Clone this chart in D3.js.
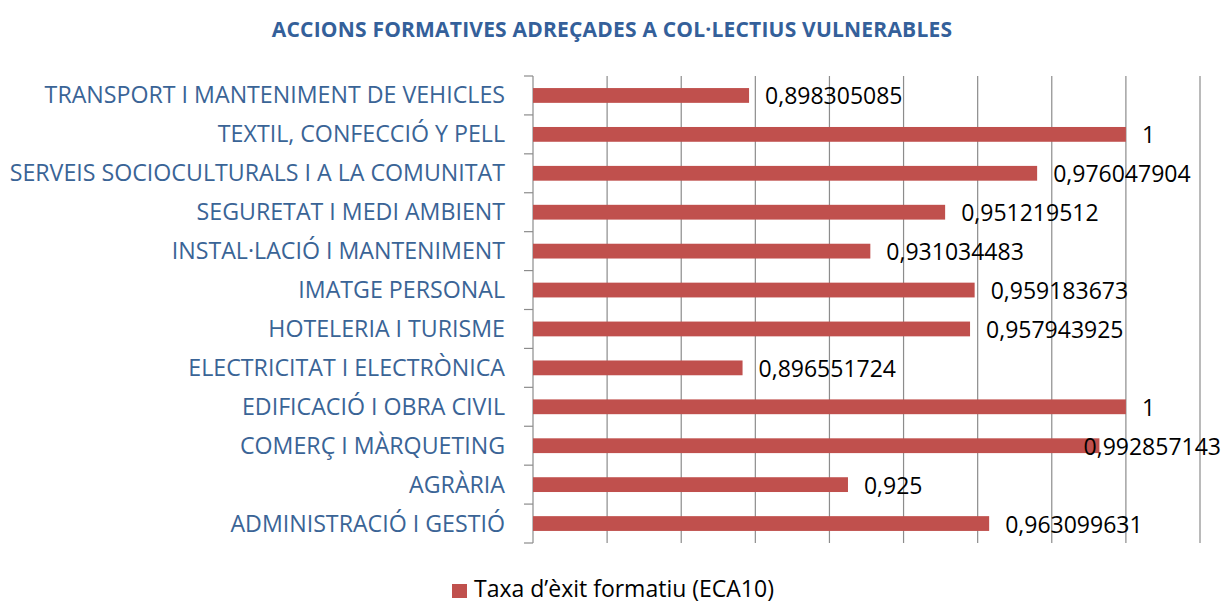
<!DOCTYPE html>
<html>
<head>
<meta charset="utf-8">
<script src="https://cdn.jsdelivr.net/npm/d3@7"></script>
<style>
  html, body { margin: 0; padding: 0; background: #ffffff; }
  svg { display: block; }
</style>
</head>
<body>
<svg id="chart" width="1223" height="604"></svg>
<script>
// Categories, top to bottom
const categories = [
  "TRANSPORT I MANTENIMENT DE VEHICLES",
  "TEXTIL, CONFECCIÓ Y PELL",
  "SERVEIS SOCIOCULTURALS I A LA COMUNITAT",
  "SEGURETAT I MEDI AMBIENT",
  "INSTAL·LACIÓ I MANTENIMENT",
  "IMATGE PERSONAL",
  "HOTELERIA I TURISME",
  "ELECTRICITAT I ELECTRÒNICA",
  "EDIFICACIÓ I OBRA CIVIL",
  "COMERÇ I MÀRQUETING",
  "AGRÀRIA",
  "ADMINISTRACIÓ I GESTIÓ"
];

// Taxa d'èxit formatiu (ECA10)
const values = [
  0.898305085,
  1,
  0.976047904,
  0.951219512,
  0.931034483,
  0.959183673,
  0.957943925,
  0.896551724,
  1,
  0.992857143,
  0.925,
  0.963099631
];

// Value-axis gridline positions
const gridTicks = [0.84, 0.86, 0.88, 0.90, 0.92, 0.94, 0.96, 0.98, 1.00, 1.02];

const chartTitle = "ACCIONS FORMATIVES ADREÇADES A COL·LECTIUS VULNERABLES";
const seriesName = "Taxa d’èxit formatiu (ECA10)";

const W = 1223, H = 604;
const plot = { left: 533, right: 1200, top: 76, bottom: 543 };
const barColor = "#C0504D";
const labelBlue = "#3A6496";
const gridColor = "#8C8C8C";
const font = "'Open Sans', 'Noto Sans', sans-serif";

const svg = d3.select("#chart");

const x = d3.scaleLinear()
  .domain([gridTicks[0], gridTicks[gridTicks.length - 1]])
  .range([plot.left, plot.right]);

const y = d3.scaleBand()
  .domain(categories)
  .range([plot.top, plot.bottom])
  .paddingInner(0.62)
  .paddingOuter(0.31);

// Title
svg.append("text")
  .attr("x", 612)
  .attr("y", 37)
  .attr("text-anchor", "middle")
  .attr("font-family", font)
  .attr("font-weight", "bold")
  .attr("font-size", 21)
  .attr("letter-spacing", 0.2)
  .attr("fill", "#34609A")
  .text(chartTitle);

// Vertical gridlines
svg.append("g")
  .selectAll("line")
  .data(gridTicks.slice(1))
  .join("line")
  .attr("x1", d => x(d)).attr("x2", d => x(d))
  .attr("y1", plot.top).attr("y2", plot.bottom)
  .attr("stroke", gridColor)
  .attr("stroke-width", 1.2);

// Category axis with tick marks at band boundaries
const step = y.step();
const boundaries = d3.range(categories.length + 1).map(i => plot.top + i * step);
const axisG = svg.append("g");
axisG.append("line")
  .attr("x1", plot.left).attr("x2", plot.left)
  .attr("y1", plot.top).attr("y2", plot.bottom)
  .attr("stroke", gridColor).attr("stroke-width", 1.2);
axisG.selectAll("line.tick")
  .data(boundaries)
  .join("line")
  .attr("class", "tick")
  .attr("x1", plot.left - 9).attr("x2", plot.left)
  .attr("y1", d => d).attr("y2", d => d)
  .attr("stroke", gridColor).attr("stroke-width", 1.2);

// Category labels
svg.append("g")
  .selectAll("text")
  .data(categories)
  .join("text")
  .attr("x", 505)
  .attr("y", d => y(d) + y.bandwidth() / 2 + 8)
  .attr("text-anchor", "end")
  .attr("font-family", font)
  .attr("font-size", 23.2)
  .attr("fill", labelBlue)
  .text(d => d);

// Bars
const rows = categories.map((c, i) => ({ cat: c, val: values[i] }));
svg.append("g")
  .selectAll("rect")
  .data(rows)
  .join("rect")
  .attr("x", x(gridTicks[0]))
  .attr("y", d => y(d.cat))
  .attr("width", d => x(d.val) - x(gridTicks[0]))
  .attr("height", y.bandwidth())
  .attr("fill", barColor);

// Value labels, kept inside the chart's right edge
const fmt = v => String(v).replace(".", ",");
svg.append("g")
  .selectAll("text")
  .data(rows)
  .join("text")
  .attr("y", d => y(d.cat) + y.bandwidth() / 2 + 9)
  .attr("font-family", font)
  .attr("font-size", 23)
  .attr("fill", "#000000")
  .text(d => fmt(d.val))
  .attr("x", function (d) {
    const w = this.getComputedTextLength();
    return Math.min(x(d.val) + 16, W - 2 - w);
  });

// Legend
const legend = svg.append("g");
legend.append("rect")
  .attr("x", 452).attr("y", 584)
  .attr("width", 15).attr("height", 14)
  .attr("fill", barColor);
legend.append("text")
  .attr("x", 474).attr("y", 597)
  .attr("font-family", font)
  .attr("font-size", 23)
  .attr("fill", "#000000")
  .text(seriesName);
</script>
</body>
</html>
